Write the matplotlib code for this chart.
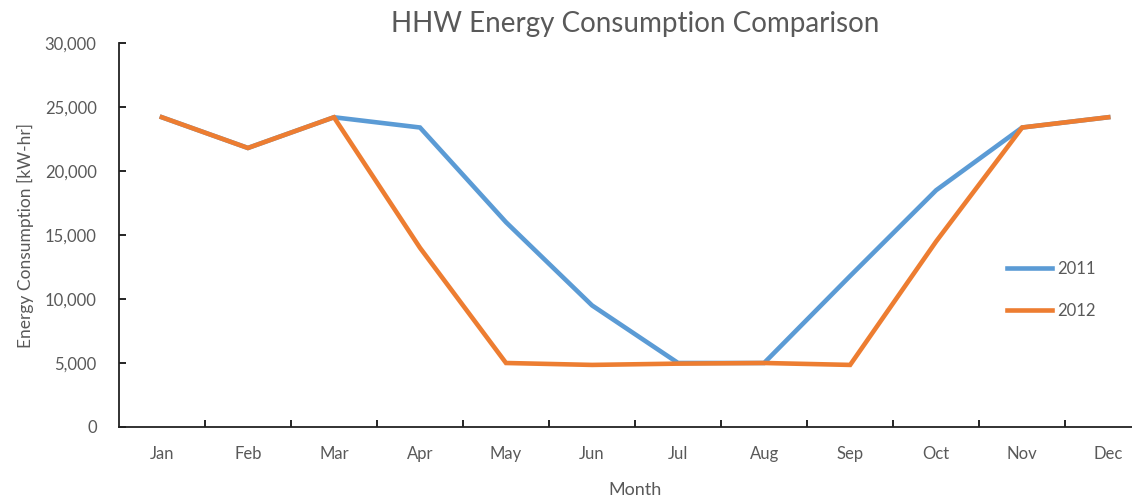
import matplotlib
matplotlib.use("Agg")
import matplotlib.pyplot as plt
from matplotlib.ticker import FuncFormatter

months = ["Jan", "Feb", "Mar", "Apr", "May", "Jun", "Jul", "Aug", "Sep", "Oct", "Nov", "Dec"]
y2011 = [24200, 21800, 24200, 23400, 16000, 9500, 5000, 5000, 11800, 18500, 23400, 24200]
y2012 = [24200, 21800, 24200, 14000, 5000, 4850, 4950, 5000, 4850, 14500, 23400, 24200]

plt.rcParams['font.family'] = ['Lato', 'DejaVu Sans']
grey = "#595959"

fig = plt.figure(figsize=(11.32, 4.98), dpi=100)
ax = fig.add_axes([0.105, 0.1426, 0.912, 0.771])

x = range(len(months))
ax.plot(x, y2011, color="#5B9BD5", lw=3.3, label="2011", solid_joinstyle="miter")
ax.plot(x, y2012, color="#ED7D31", lw=3.3, label="2012", solid_joinstyle="miter")

ax.set_xlim(-0.5, 11.5)
ax.set_ylim(0, 30000)
ax.set_yticks(range(0, 30001, 5000))
ax.yaxis.set_major_formatter(FuncFormatter(lambda v, p: f"{int(v):,}"))
ax.set_xticks(list(x))
ax.set_xticklabels(months)
ax.set_xticks([i + 0.5 for i in range(11)], minor=True)
ax.tick_params(axis="x", which="major", length=0, pad=14, labelsize=12, labelcolor=grey)
ax.tick_params(axis="x", which="minor", length=5, direction="in", width=1.2)
ax.tick_params(axis="y", length=5, direction="in", width=1.2, pad=16, labelsize=12, labelcolor=grey)

for s in ["top", "right"]:
    ax.spines[s].set_visible(False)
for s in ["left", "bottom"]:
    ax.spines[s].set_linewidth(1.3)
    ax.spines[s].set_color("#222222")

ax.set_title("HHW Energy Consumption Comparison", fontsize=20, color=grey, pad=8)
ax.set_xlabel("Month", fontsize=13, color=grey, labelpad=14)
ax.set_ylabel("Energy Consumption [kW-hr]", fontsize=12.5, color=grey, labelpad=8)

ax.legend(loc="center left", bbox_to_anchor=(0.846, 0.357), frameon=False,
          fontsize=12, labelcolor=grey, handlelength=2.7, labelspacing=1.55, handletextpad=0.3)

fig.savefig("out.png", dpi=100)
